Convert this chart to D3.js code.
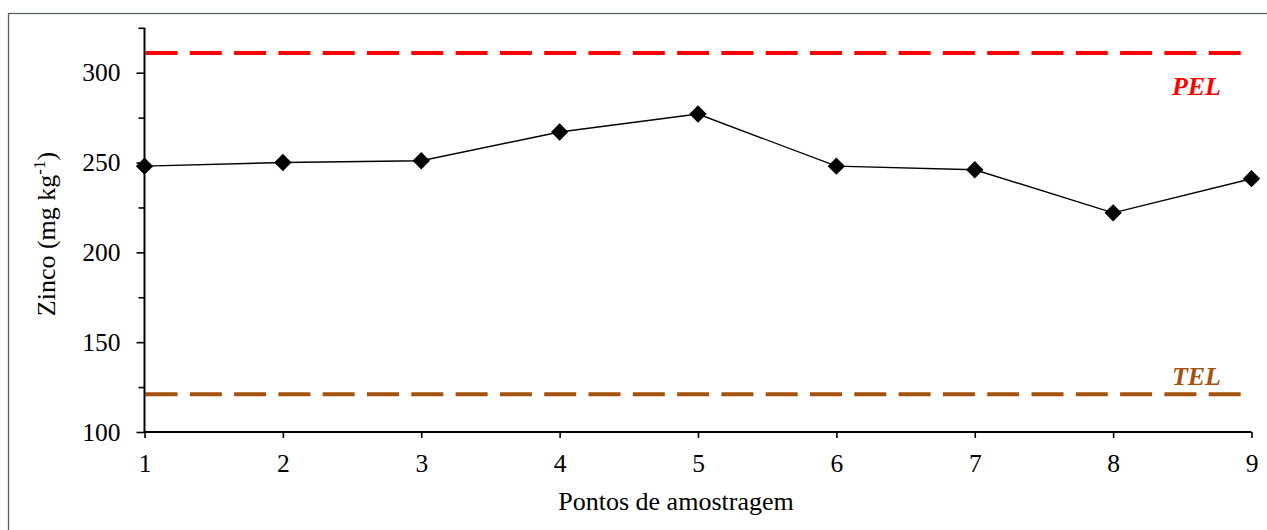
<!DOCTYPE html>
<html>
<head>
<meta charset="utf-8">
<script src="https://cdn.jsdelivr.net/npm/d3@7"></script>
<style>
  body { margin: 0; background: #fff; }
  svg { display: block; font-family: "Liberation Serif", "Times New Roman", serif; }
</style>
</head>
<body>
<div id="app"></div>
<script>
var width = 1267;
var height = 530;

// data
var pontos = [1, 2, 3, 4, 5, 6, 7, 8, 9];
var zinco = [248, 250, 251, 267, 277, 248, 246, 222, 241];
var pel = 311;
var tel = 121;
var yTicks = [100, 150, 200, 250, 300];
var yMinorTicks = [125, 175, 225, 275, 325];

var svg = d3.select("#app").append("svg")
            .attr("width", width)
            .attr("height", height);

// outer frame (only left and top edges show in the picture)
svg.append("rect")
   .attr("x", 8.5).attr("y", 13.5)
   .attr("width", 1400).attr("height", 700)
   .attr("fill", "none")
   .attr("stroke", "#56606b")
   .attr("stroke-width", 1.3);

var x = d3.scaleLinear().domain([1, 9]).range([144.5, 1251.5]);
var y = d3.scaleLinear().domain([100, 325]).range([432, 27.8]);

// reference lines
function refLine(val, color) {
    svg.append("line")
       .attr("x1", x(1) + 1).attr("x2", x(9))
       .attr("y1", y(val)).attr("y2", y(val))
       .attr("stroke", color)
       .attr("stroke-width", 4)
       .attr("stroke-dasharray", "32,12.3");
}
refLine(pel, "#ff0000");
refLine(tel, "#a5520f");

svg.append("text")
   .attr("x", 1221).attr("y", 95)
   .attr("text-anchor", "end")
   .attr("font-size", 26).attr("font-weight", "bold").attr("font-style", "italic")
   .attr("fill", "#ff0000")
   .text("PEL");

svg.append("text")
   .attr("x", 1221).attr("y", 385)
   .attr("text-anchor", "end")
   .attr("font-size", 26).attr("font-weight", "bold").attr("font-style", "italic")
   .attr("fill", "#a5520f")
   .text("TEL");

// axes
var yAxis = d3.axisLeft(y).tickValues(yTicks).tickSize(8).tickPadding(16);
var yMinor = d3.axisLeft(y).tickValues(yMinorTicks).tickSize(6).tickFormat("");
var xAxis = d3.axisBottom(x).tickValues(pontos).tickSize(6).tickPadding(16).tickFormat(d3.format("d"));

var gy = svg.append("g").attr("transform", "translate(" + x(1) + ",0)").call(yAxis);
var gyMinor = svg.append("g").attr("transform", "translate(" + x(1) + ",0)").call(yMinor);
gyMinor.select(".domain").remove();
var gx = svg.append("g").attr("transform", "translate(0," + y(100) + ")").call(xAxis);

svg.selectAll(".domain").attr("stroke", "#000").attr("stroke-width", 2);
svg.selectAll(".tick line").attr("stroke", "#000").attr("stroke-width", 1.6);
svg.selectAll(".tick text")
   .attr("font-family", "Liberation Serif, Times New Roman, serif")
   .attr("font-size", 25.5)
   .attr("fill", "#000");
gy.select(".domain").attr("d", "M0," + y(325) + "V" + y(100));
gx.select(".domain").attr("d", "M" + x(1) + ",0H" + x(9));

// series
var line = d3.line()
             .x(function(d, i) { return x(pontos[i]); })
             .y(function(d) { return y(d); });

svg.append("path")
   .datum(zinco)
   .attr("d", line)
   .attr("fill", "none")
   .attr("stroke", "#000")
   .attr("stroke-width", 1.4);

var diamond = d3.symbol().type(d3.symbolSquare).size(150);
svg.selectAll(".pt")
   .data(zinco)
   .enter().append("path")
   .attr("class", "pt")
   .attr("d", diamond)
   .attr("transform", function(d, i) {
       return "translate(" + x(pontos[i]) + "," + y(d) + ") rotate(45)";
   })
   .attr("fill", "#000");

// axis titles
svg.append("text")
   .attr("x", 676).attr("y", 510)
   .attr("text-anchor", "middle")
   .attr("font-size", 26)
   .text("Pontos de amostragem");

var yl = svg.append("text")
   .attr("transform", "translate(55,234) rotate(-90)")
   .attr("text-anchor", "middle")
   .attr("font-size", 26);
yl.append("tspan").text("Zinco (mg kg");
yl.append("tspan").attr("dy", -10).attr("font-size", 17).text("-1");
yl.append("tspan").attr("dy", 10).text(")");
</script>
</body>
</html>
